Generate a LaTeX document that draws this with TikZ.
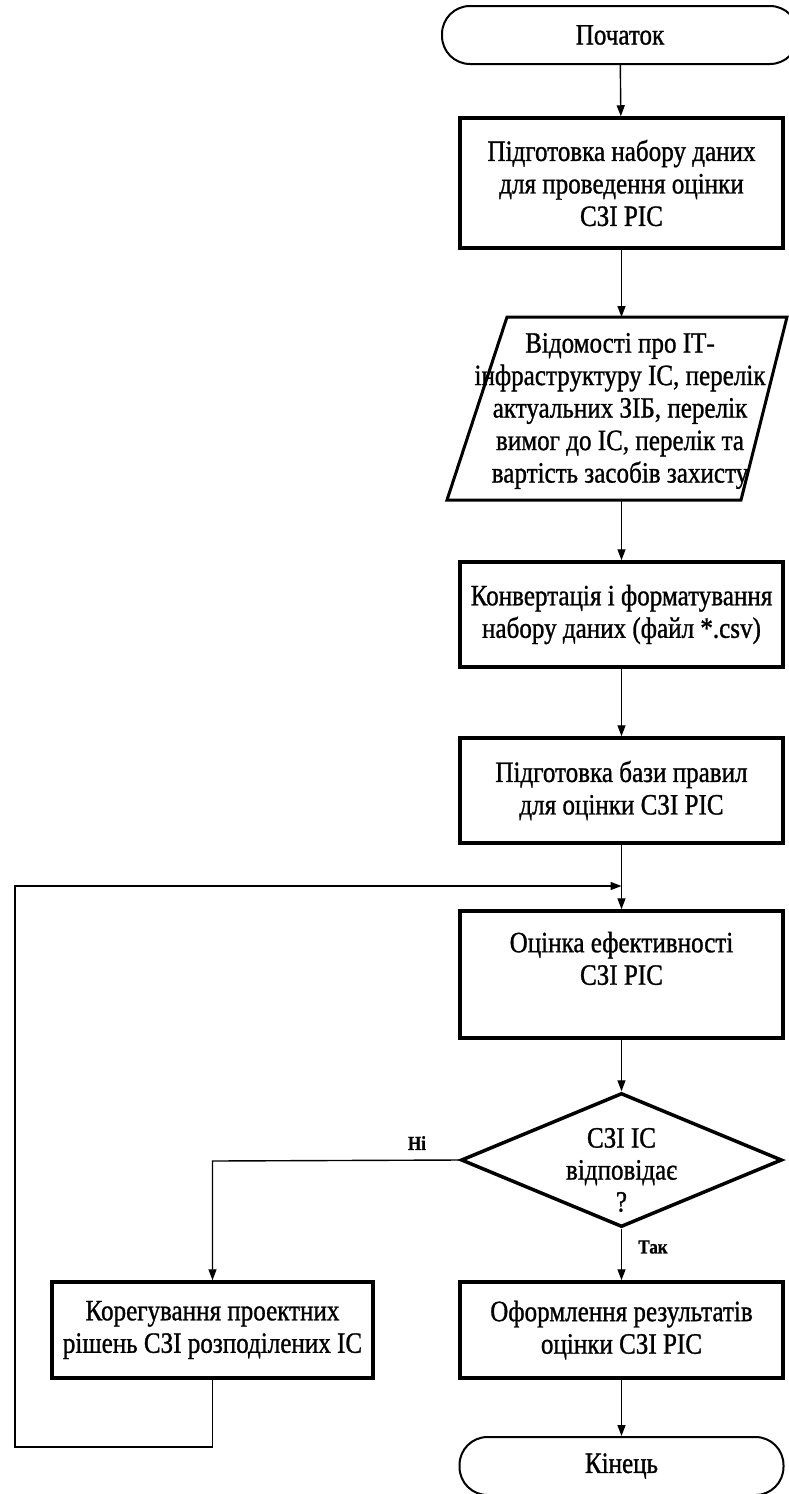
\documentclass[tikz,border=0pt]{standalone}
\usepackage{fontspec}
\setmainfont{Liberation Serif}[FakeStretch=0.85,FakeBold=1.0]
\usetikzlibrary{arrows.meta,shapes.geometric}
\tikzset{
  txt/.style={font=\fontsize{29.5}{32.5}\selectfont, align=center, inner sep=0pt},
  procbox/.style={draw, line width=3.5pt, minimum width=323pt, minimum height=#1, txt},
  termbox/.style={draw, line width=2pt, rounded corners=28pt, minimum height=58pt, txt},
  conn/.style={line width=1.4pt, -{Triangle[length=11pt,width=8pt]}},
  wire/.style={line width=1.4pt},
  lbl/.style={font=\fontsize{20}{22}\selectfont\bfseries, inner sep=0pt}
}
\begin{document}
\begin{tikzpicture}[x=1pt,y=-1pt]
\useasboundingbox (0,0) rectangle (788,1494);
\fill[white] (0,0) rectangle (788,1494);

\node[termbox, minimum width=356pt] (start) at (620,35) {Початок};
\node[procbox=130pt] (b1) at (621.5,183) {Підготовка набору даних\\для проведення оцінки\\СЗІ РІС};

\draw[line width=3pt] (507,317) -- (787,317) -- (741,500) -- (447,500) -- cycle;
\coordinate (ptop) at (621.5,317);
\coordinate (pbot) at (621.5,500);
\node[txt] (pdata) at (620,411) {Відомості про ІТ-\\інфраструктуру ІС, перелік\\актуальних ЗІБ, перелік\\вимог до ІС, перелік та\\вартість засобів захисту};

\node[procbox=105pt] (conv) at (621.5,614.5) {Конвертація і форматування\\набору даних (файл *.csv)};
\node[procbox=105pt] (baza) at (621.5,790.5) {Підготовка бази правил\\для оцінки СЗІ РІС};
\node[procbox=127pt] (ocin) at (621.5,974.5) {Оцінка ефективності\\СЗІ РІС\\\mbox{}};

\node[draw, diamond, line width=3.5pt, minimum width=321pt, minimum height=134pt, inner sep=0pt] (dia) at (621.5,1160) {};
\node[txt, font=\fontsize{29.5}{32}\selectfont] (diat) at (621.5,1170) {СЗІ ІС\\відповідає\\?};

\node[procbox=96pt] (res) at (621.5,1330) {Оформлення результатів\\оцінки СЗІ РІС};
\node[procbox=96pt, minimum width=321pt] (corr) at (212.5,1330) {Корегування проектних\\рішень СЗІ розподілених ІС};

\node[termbox, minimum width=324pt] (fin) at (621.5,1466) {Кінець};

\coordinate (j) at (621.5,886);
\coordinate (ni) at (212.5,1161);
\coordinate (lb) at (212.5,1447);
\coordinate (lbl2) at (15,1447);
\coordinate (lt) at (15,886);

\draw[conn] (start) -- (b1);
\draw[conn] (b1) -- (ptop);
\draw[conn] (pbot) -- (conv);
\draw[conn] (conv) -- (baza);
\draw[conn] (baza) -- (ocin);
\draw[conn] (ocin) -- (dia);
\draw[conn] (dia.south) -- (res.north);
\draw[conn] (dia.west) -- (ni) -- (corr.north);
\draw[conn] (corr.south) -- (lb) -- (lbl2) -- (lt) -- (j);
\draw[conn] (res) -- (fin);

\node[lbl] (lni) at (417,1143) {Ні};
\node[lbl] (ltak) at (653,1247) {Так};
\end{tikzpicture}
\end{document}
